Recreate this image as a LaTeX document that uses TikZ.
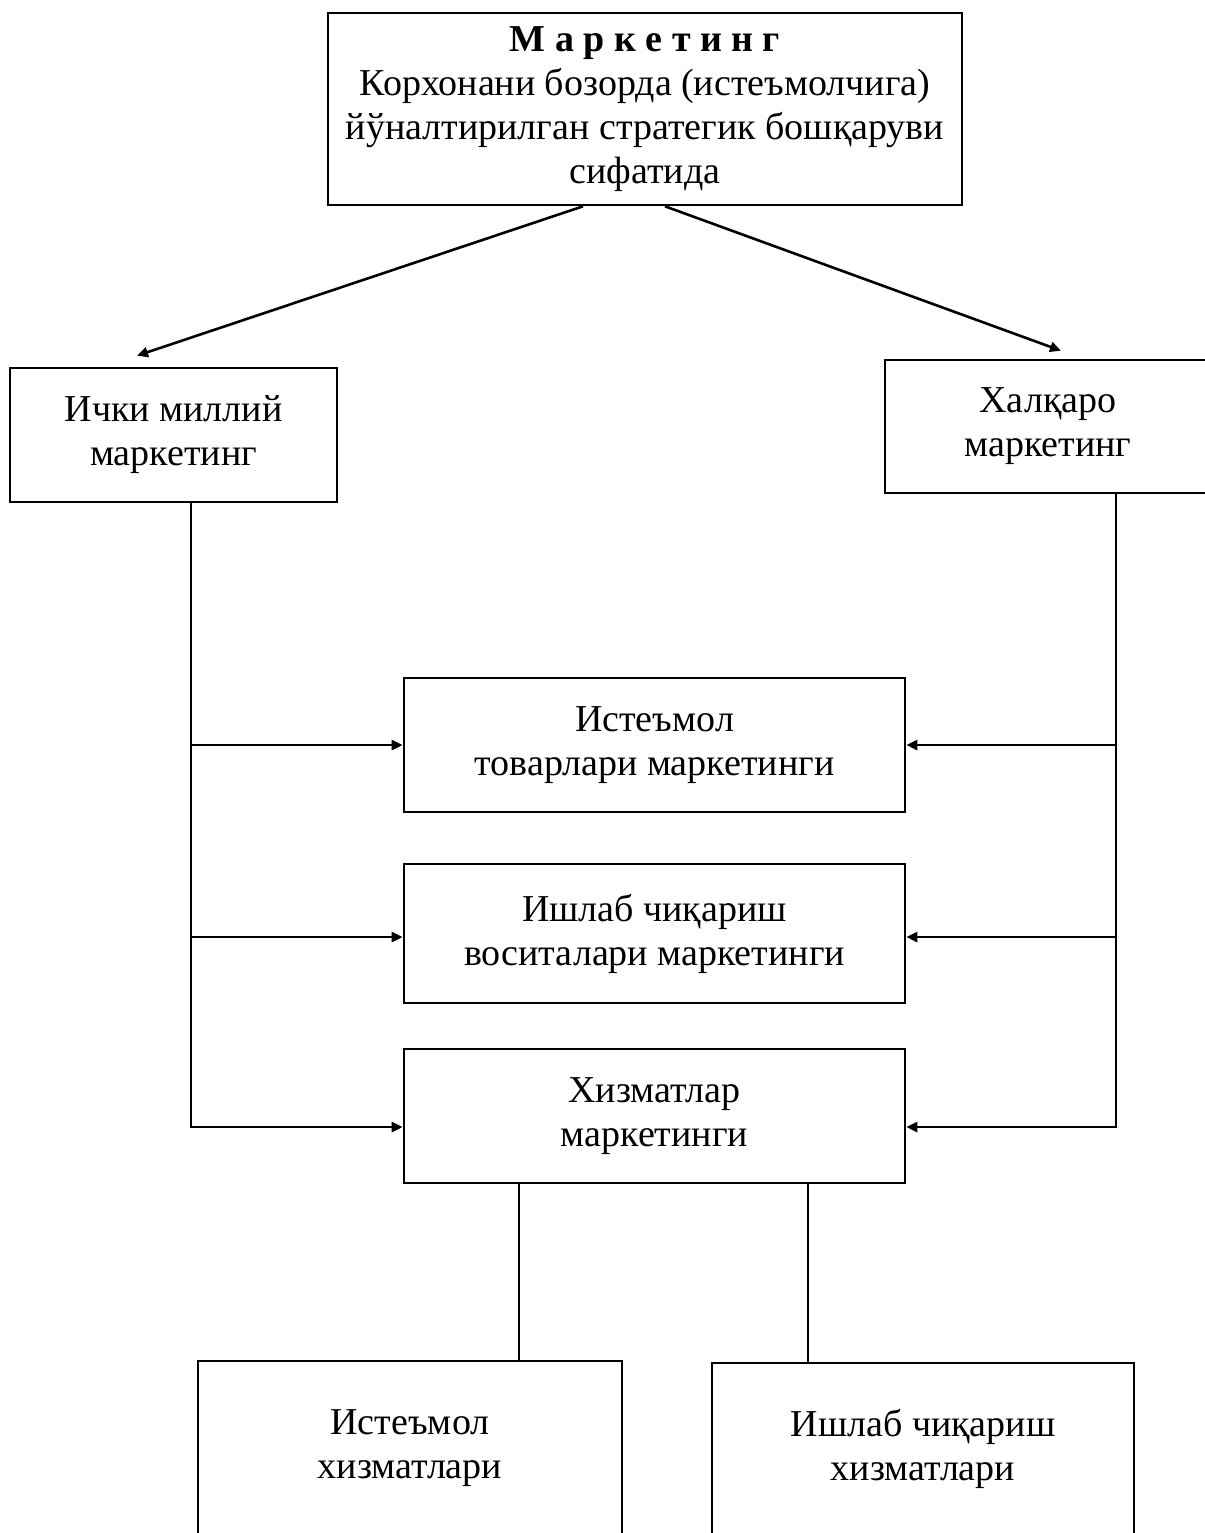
\documentclass[tikz,border=0pt]{standalone}
\usepackage{fontspec}
\setmainfont{Liberation Serif}
\usetikzlibrary{arrows.meta}
\begin{document}
\begin{tikzpicture}[x=0.5pt,y=-0.5pt,
  box/.style={draw,line width=1.3pt,align=center,inner sep=0pt,
    font=\fontsize{19}{22}\selectfont},
  arr/.style={line width=1.3pt,-{Triangle[length=5.5pt,width=5pt]}},
  ln/.style={line width=1.3pt}]
\clip (0,0) rectangle (1205,1533);

% boxes
\node[box,minimum width=317pt,minimum height=96pt] (top) at (645,109)
  {\textbf{М а р к е т и н г}\\Корхонани бозорда (истеъмолчига)\\йўналтирилган стратегик бошқаруви\\сифатида};
\node[box,minimum width=163.5pt,minimum height=67pt] (ichki) at (173.5,435)
  {Ички миллий\\маркетинг};
\node[box,minimum width=163pt,minimum height=66.5pt] (halq) at (1048,426.5)
  {Халқаро\\маркетинг};
\node[box,minimum width=250.5pt,minimum height=67pt] (cons) at (654.5,745)
  {Истеъмол\\товарлари маркетинги};
\node[box,minimum width=250.5pt,minimum height=69.5pt] (prod) at (654.5,933.5)
  {Ишлаб чиқариш\\воситалари маркетинги};
\node[box,minimum width=250.5pt,minimum height=67pt] (serv) at (654.5,1116)
  {Хизматлар\\маркетинги};
\node[box,minimum width=212pt,minimum height=87pt] (cserv) at (410,1448)
  {Истеъмол\\хизматлари};
\node[box,minimum width=211pt,minimum height=86pt] (pserv) at (923,1449)
  {Ишлаб чиқариш\\хизматлари};

% entry points on the middle boxes
\coordinate (pw) at ([yshift=-1.75pt]prod.west);
\coordinate (pe) at ([yshift=-1.75pt]prod.east);
\coordinate (sw) at ([yshift=-5.5pt]serv.west);
\coordinate (se) at ([yshift=-5.5pt]serv.east);

% top-level branches
\draw[arr] ([xshift=-31pt]top.south) -- ([xshift=-18.25pt,yshift=5.5pt]ichki.north);
\draw[arr] ([xshift=10pt]top.south) -- ([xshift=6.5pt,yshift=4pt]halq.north);

% left trunk
\coordinate (L) at ([xshift=8.75pt]ichki.south);
\draw[arr] (L) |- (sw);
\draw[arr] (L |- cons.west) -- (cons.west);
\draw[arr] (L |- pw) -- (pw);

% right trunk
\coordinate (R) at ([xshift=34pt]halq.south);
\draw[arr] (R) |- (se);
\draw[arr] (R |- cons.east) -- (cons.east);
\draw[arr] (R |- pe) -- (pe);

% services split
\coordinate (s1) at ([xshift=-67.75pt]serv.south);
\coordinate (s2) at ([xshift=76.75pt]serv.south);
\draw[ln] (s1) -- (s1 |- cserv.north);
\draw[ln] (s2) -- (s2 |- pserv.north);
\end{tikzpicture}
\end{document}
